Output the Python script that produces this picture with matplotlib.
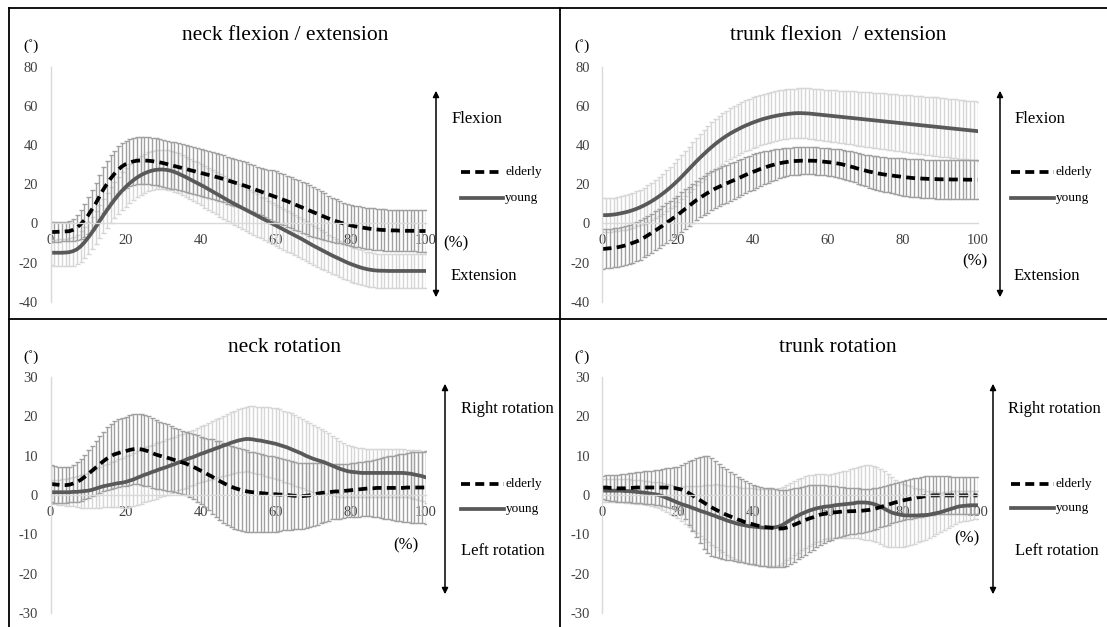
import numpy as np
import matplotlib.pyplot as plt
from matplotlib.lines import Line2D
from matplotlib.patches import FancyArrowPatch

plt.rcParams['font.family'] = ['Liberation Serif', 'DejaVu Serif']
plt.rcParams['axes.unicode_minus'] = False

# gait cycle (%)
pct = np.arange(101)

# neck flexion / extension (deg), mean and SD
neck_fe_elderly = [
    -4.4, -4.4, -4.3, -4.2, -4.1, -4.0, -3.3, -2.2, -0.5, 1.5,
    4.0, 7.0, 10.0, 13.5, 17.0, 20.0, 22.8, 25.2, 27.3, 29.0,
    30.2, 31.0, 31.6, 32.0, 32.1, 32.1, 32.0, 31.8, 31.5, 31.2,
    30.8, 30.3, 29.8, 29.3, 28.8, 28.3, 27.8, 27.3, 26.8, 26.3,
    25.8, 25.3, 24.8, 24.3, 23.8, 23.3, 22.7, 22.1, 21.5, 20.9,
    20.3, 19.7, 19.1, 18.4, 17.7, 17.0, 16.3, 15.6, 14.9, 14.2,
    13.5, 12.8, 12.1, 11.4, 10.6, 9.8, 9.0, 8.2, 7.4, 6.6,
    5.8, 5.0, 4.2, 3.4, 2.6, 1.9, 1.2, 0.6, 0.0, -0.5,
    -1.0, -1.4, -1.8, -2.1, -2.4, -2.7, -2.9, -3.1, -3.3, -3.4,
    -3.5, -3.6, -3.6, -3.7, -3.7, -3.8, -3.8, -3.8, -3.9, -3.9,
    -3.9]
neck_fe_elderly_sd = [
    5.0, 5.0, 5.0, 5.0, 5.0, 5.0, 5.5, 6.5, 7.5, 8.5,
    9.5, 10.2, 10.8, 11.3, 11.7, 12.0, 12.0, 12.0, 12.0, 12.0,
    12.0, 12.0, 12.0, 12.0, 12.0, 12.0, 12.0, 12.0, 12.0, 12.0,
    12.0, 12.0, 12.0, 12.0, 12.0, 12.0, 12.0, 12.0, 12.0, 12.0,
    12.0, 12.0, 12.0, 12.0, 12.0, 12.0, 12.0, 12.0, 12.0, 12.0,
    12.0, 12.0, 12.0, 12.0, 12.0, 12.0, 12.2, 12.4, 12.6, 12.8,
    13.0, 13.0, 13.0, 13.0, 13.0, 13.0, 13.0, 13.0, 13.0, 12.9,
    12.7, 12.5, 12.2, 11.9, 11.6, 11.3, 11.0, 10.8, 10.6, 10.5,
    10.5, 10.5, 10.5, 10.5, 10.5, 10.5, 10.5, 10.5, 10.5, 10.5,
    10.5, 10.5, 10.5, 10.5, 10.5, 10.5, 10.5, 10.5, 10.5, 10.5,
    10.5]
neck_fe_young = [
    -15.0, -15.0, -15.0, -15.0, -14.9, -14.7, -14.2, -13.3, -11.8, -9.8,
    -7.4, -4.8, -2.0, 0.9, 3.8, 6.6, 9.3, 11.9, 14.3, 16.5,
    18.5, 20.3, 21.9, 23.3, 24.5, 25.5, 26.3, 26.9, 27.3, 27.5,
    27.5, 27.3, 26.9, 26.3, 25.5, 24.6, 23.7, 22.7, 21.7, 20.7,
    19.7, 18.7, 17.6, 16.5, 15.4, 14.3, 13.2, 12.1, 11.0, 10.0,
    9.0, 8.0, 7.0, 6.0, 5.0, 4.0, 3.0, 2.0, 1.0, 0.0,
    -1.0, -2.0, -3.0, -4.0, -5.0, -6.0, -7.0, -8.0, -9.1, -10.2,
    -11.3, -12.3, -13.3, -14.3, -15.3, -16.3, -17.2, -18.1, -19.0, -19.9,
    -20.7, -21.4, -22.1, -22.7, -23.2, -23.6, -23.9, -24.1, -24.2, -24.2,
    -24.3, -24.3, -24.3, -24.3, -24.3, -24.3, -24.3, -24.3, -24.3, -24.3,
    -24.3]
neck_fe_young_sd = [
    6.5, 6.6, 6.8, 6.9, 7.1, 7.2, 7.4, 7.5, 7.7, 7.8,
    8.0, 8.2, 8.4, 8.6, 8.8, 9.0, 9.2, 9.4, 9.6, 9.8,
    10.0, 10.0, 10.0, 10.0, 10.0, 10.0, 10.0, 10.0, 10.0, 10.0,
    10.0, 10.1, 10.1, 10.2, 10.2, 10.3, 10.3, 10.4, 10.4, 10.5,
    10.5, 10.6, 10.6, 10.7, 10.7, 10.8, 10.8, 10.9, 10.9, 11.0,
    11.0, 11.0, 10.9, 10.9, 10.8, 10.8, 10.7, 10.7, 10.6, 10.6,
    10.5, 10.5, 10.4, 10.4, 10.3, 10.3, 10.2, 10.2, 10.1, 10.1,
    10.0, 9.9, 9.8, 9.7, 9.6, 9.5, 9.4, 9.3, 9.2, 9.1,
    9.0, 9.0, 8.9, 8.9, 8.8, 8.8, 8.7, 8.7, 8.6, 8.6,
    8.5, 8.5, 8.5, 8.5, 8.5, 8.5, 8.5, 8.5, 8.5, 8.5,
    8.5]

# trunk flexion / extension (deg)
trunk_fe_elderly = [
    -13.1, -12.9, -12.7, -12.5, -12.2, -11.8, -11.3, -10.7, -10.0, -9.3,
    -8.5, -7.4, -6.2, -5.0, -3.8, -2.5, -1.2, 0.2, 1.5, 2.9,
    4.2, 5.8, 7.3, 8.8, 10.3, 11.8, 13.0, 14.3, 15.5, 16.6,
    17.7, 18.6, 19.5, 20.3, 21.2, 22.0, 22.9, 23.7, 24.6, 25.4,
    26.2, 26.9, 27.7, 28.3, 29.0, 29.6, 30.1, 30.6, 31.0, 31.3,
    31.6, 31.8, 31.9, 32.0, 32.0, 32.0, 32.0, 31.9, 31.7, 31.5,
    31.3, 31.1, 30.8, 30.5, 30.1, 29.6, 29.1, 28.6, 28.0, 27.5,
    27.0, 26.5, 26.1, 25.7, 25.3, 25.0, 24.7, 24.5, 24.2, 24.0,
    23.7, 23.5, 23.3, 23.1, 23.0, 22.9, 22.8, 22.7, 22.6, 22.6,
    22.5, 22.5, 22.5, 22.4, 22.4, 22.4, 22.4, 22.3, 22.3, 22.3,
    22.3]
trunk_fe_elderly_sd = [
    10.0, 10.0, 10.0, 10.0, 10.0, 10.0, 10.0, 10.0, 10.0, 10.0,
    10.0, 10.0, 10.0, 10.0, 10.0, 10.0, 10.0, 10.0, 10.0, 10.0,
    10.0, 10.0, 10.0, 10.0, 10.0, 10.0, 10.0, 10.0, 10.0, 10.0,
    10.0, 9.9, 9.8, 9.7, 9.6, 9.5, 9.4, 9.3, 9.2, 9.1,
    9.0, 8.8, 8.6, 8.4, 8.2, 8.0, 7.8, 7.6, 7.4, 7.2,
    7.0, 7.0, 7.0, 7.0, 7.0, 7.0, 7.0, 7.0, 7.0, 7.0,
    7.0, 7.1, 7.2, 7.3, 7.4, 7.5, 7.6, 7.7, 7.8, 7.9,
    8.0, 8.2, 8.3, 8.5, 8.6, 8.8, 8.9, 9.1, 9.2, 9.4,
    9.5, 9.6, 9.6, 9.7, 9.7, 9.8, 9.8, 9.9, 9.9, 10.0,
    10.0, 10.0, 10.0, 10.0, 10.0, 10.0, 10.0, 10.0, 10.0, 10.0,
    10.0]
trunk_fe_young = [
    4.2, 4.2, 4.3, 4.5, 4.8, 5.2, 5.6, 6.1, 6.7, 7.4,
    8.2, 9.1, 10.1, 11.2, 12.4, 13.7, 15.1, 16.6, 18.2, 19.9,
    21.7, 23.6, 25.6, 27.6, 29.6, 31.6, 33.5, 35.3, 37.1, 38.8,
    40.4, 41.9, 43.3, 44.6, 45.8, 46.9, 47.9, 48.9, 49.8, 50.6,
    51.4, 52.1, 52.8, 53.4, 53.9, 54.4, 54.8, 55.2, 55.5, 55.8,
    56.0, 56.2, 56.3, 56.3, 56.2, 56.1, 55.9, 55.7, 55.5, 55.3,
    55.1, 54.9, 54.7, 54.5, 54.3, 54.1, 53.9, 53.7, 53.5, 53.3,
    53.1, 52.9, 52.7, 52.5, 52.3, 52.1, 51.9, 51.7, 51.5, 51.3,
    51.1, 50.9, 50.7, 50.5, 50.3, 50.1, 49.9, 49.7, 49.5, 49.3,
    49.1, 48.9, 48.7, 48.5, 48.3, 48.1, 47.9, 47.7, 47.5, 47.3,
    47.1]
trunk_fe_young_sd = [
    8.5, 8.5, 8.6, 8.6, 8.7, 8.7, 8.8, 8.8, 8.9, 8.9,
    9.0, 9.2, 9.4, 9.6, 9.8, 10.0, 10.2, 10.4, 10.6, 10.8,
    11.0, 11.2, 11.4, 11.6, 11.8, 12.0, 12.2, 12.4, 12.6, 12.8,
    13.0, 13.0, 13.0, 13.0, 13.0, 13.0, 13.0, 13.0, 13.0, 13.0,
    13.0, 13.0, 12.9, 12.9, 12.8, 12.8, 12.7, 12.7, 12.6, 12.6,
    12.5, 12.6, 12.6, 12.7, 12.7, 12.8, 12.8, 12.9, 12.9, 13.0,
    13.0, 13.1, 13.2, 13.3, 13.4, 13.5, 13.6, 13.7, 13.8, 13.9,
    14.0, 14.1, 14.1, 14.2, 14.2, 14.3, 14.3, 14.4, 14.4, 14.5,
    14.5, 14.6, 14.6, 14.7, 14.7, 14.8, 14.8, 14.9, 14.9, 15.0,
    15.0, 15.0, 15.0, 15.0, 15.0, 15.0, 15.0, 15.0, 15.0, 15.0,
    15.0]

# neck rotation (deg)
neck_rot_elderly = [
    2.8, 2.7, 2.6, 2.5, 2.5, 2.6, 2.9, 3.3, 3.8, 4.5,
    5.3, 6.1, 6.9, 7.7, 8.5, 9.2, 9.8, 10.3, 10.6, 10.9,
    11.1, 11.4, 11.6, 11.7, 11.6, 11.4, 11.1, 10.7, 10.3, 10.0,
    9.7, 9.5, 9.2, 8.9, 8.6, 8.3, 8.0, 7.6, 7.2, 6.7,
    6.2, 5.7, 5.2, 4.7, 4.1, 3.6, 3.1, 2.6, 2.2, 1.8,
    1.5, 1.2, 1.0, 0.8, 0.7, 0.6, 0.5, 0.4, 0.3, 0.2,
    0.2, 0.1, 0.1, 0.0, -0.1, -0.2, -0.2, -0.3, -0.2, -0.1,
    0.1, 0.3, 0.5, 0.6, 0.7, 0.8, 0.9, 0.9, 1.0, 1.1,
    1.2, 1.3, 1.4, 1.5, 1.6, 1.7, 1.7, 1.8, 1.8, 1.8,
    1.8, 1.8, 1.8, 1.8, 1.8, 1.9, 1.9, 1.9, 1.9, 1.9,
    1.9]
neck_rot_elderly_sd = [
    4.7, 4.7, 4.6, 4.6, 4.5, 4.5, 4.7, 5.0, 5.3, 5.6,
    6.0, 6.4, 6.8, 7.2, 7.6, 8.0, 8.2, 8.4, 8.6, 8.7,
    8.8, 8.8, 8.9, 8.9, 9.0, 9.0, 8.9, 8.8, 8.7, 8.6,
    8.5, 8.4, 8.3, 8.2, 8.1, 8.0, 8.1, 8.2, 8.3, 8.4,
    8.5, 8.8, 9.1, 9.4, 9.7, 10.0, 10.1, 10.2, 10.3, 10.4,
    10.5, 10.4, 10.3, 10.2, 10.1, 10.0, 9.9, 9.8, 9.7, 9.6,
    9.5, 9.3, 9.1, 8.9, 8.7, 8.5, 8.4, 8.3, 8.2, 8.1,
    8.0, 7.8, 7.6, 7.4, 7.2, 7.0, 7.0, 6.9, 6.9, 6.8,
    6.8, 6.8, 6.9, 6.9, 7.0, 7.0, 7.2, 7.4, 7.6, 7.8,
    8.0, 8.2, 8.3, 8.5, 8.6, 8.8, 8.9, 9.0, 9.0, 9.1,
    9.2]
neck_rot_young = [
    0.7, 0.7, 0.7, 0.7, 0.7, 0.7, 0.8, 0.8, 0.9, 1.0,
    1.1, 1.3, 1.6, 1.9, 2.2, 2.4, 2.6, 2.8, 3.0, 3.1,
    3.3, 3.6, 3.9, 4.3, 4.7, 5.1, 5.4, 5.8, 6.1, 6.5,
    6.8, 7.1, 7.5, 7.8, 8.2, 8.5, 8.9, 9.3, 9.6, 10.0,
    10.4, 10.7, 11.1, 11.4, 11.8, 12.1, 12.5, 12.8, 13.2, 13.5,
    13.8, 14.0, 14.2, 14.2, 14.1, 13.9, 13.8, 13.6, 13.4, 13.2,
    13.0, 12.7, 12.4, 12.1, 11.7, 11.3, 10.9, 10.5, 10.0, 9.6,
    9.2, 8.9, 8.6, 8.3, 7.9, 7.5, 7.1, 6.7, 6.4, 6.1,
    5.9, 5.8, 5.7, 5.6, 5.6, 5.6, 5.6, 5.6, 5.6, 5.6,
    5.6, 5.6, 5.6, 5.6, 5.6, 5.5, 5.4, 5.2, 5.0, 4.8,
    4.5]
neck_rot_young_sd = [
    3.0, 3.1, 3.2, 3.3, 3.4, 3.5, 3.7, 3.9, 4.1, 4.3,
    4.5, 4.7, 4.9, 5.1, 5.3, 5.5, 5.7, 5.9, 6.1, 6.3,
    6.5, 6.6, 6.7, 6.8, 6.9, 7.0, 7.0, 7.0, 7.0, 7.0,
    7.0, 7.0, 7.0, 7.0, 7.0, 7.0, 7.0, 7.0, 7.0, 7.0,
    7.0, 7.1, 7.2, 7.3, 7.4, 7.5, 7.6, 7.7, 7.8, 7.9,
    8.0, 8.1, 8.2, 8.3, 8.4, 8.5, 8.6, 8.7, 8.8, 8.9,
    9.0, 9.0, 9.0, 9.0, 9.0, 9.0, 8.9, 8.8, 8.7, 8.6,
    8.5, 8.3, 8.1, 7.9, 7.7, 7.5, 7.3, 7.1, 6.9, 6.7,
    6.5, 6.4, 6.3, 6.2, 6.1, 6.0, 6.0, 6.0, 6.0, 6.0,
    6.0, 6.0, 6.0, 6.0, 6.0, 6.0, 6.1, 6.2, 6.3, 6.4,
    6.5]

# trunk rotation (deg)
trunk_rot_elderly = [
    1.9, 1.9, 1.8, 1.8, 1.7, 1.7, 1.7, 1.8, 1.8, 1.9,
    1.9, 1.9, 1.9, 1.9, 1.9, 1.9, 1.9, 1.9, 1.8, 1.8,
    1.6, 1.4, 1.0, 0.5, -0.1, -0.7, -1.3, -1.9, -2.5, -3.1,
    -3.6, -4.1, -4.6, -5.0, -5.4, -5.8, -6.2, -6.5, -6.9, -7.2,
    -7.4, -7.7, -7.9, -8.1, -8.2, -8.3, -8.4, -8.5, -8.5, -8.3,
    -8.0, -7.6, -7.2, -6.8, -6.4, -6.0, -5.7, -5.3, -5.0, -4.8,
    -4.6, -4.5, -4.4, -4.3, -4.2, -4.2, -4.1, -4.1, -4.0, -4.0,
    -3.9, -3.8, -3.6, -3.4, -3.1, -2.8, -2.5, -2.2, -1.9, -1.7,
    -1.4, -1.2, -1.0, -0.8, -0.6, -0.5, -0.3, -0.2, -0.1, -0.1,
    -0.1, -0.1, -0.1, -0.1, -0.1, -0.1, -0.1, -0.1, -0.1, -0.1,
    -0.1]
trunk_rot_elderly_sd = [
    3.0, 3.1, 3.2, 3.3, 3.4, 3.5, 3.6, 3.7, 3.8, 3.9,
    4.0, 4.1, 4.2, 4.3, 4.4, 4.5, 4.7, 4.9, 5.1, 5.3,
    5.5, 6.2, 7.1, 8.0, 9.0, 10.0, 10.9, 11.7, 12.3, 12.4,
    12.2, 12.0, 11.7, 11.5, 11.2, 11.0, 10.8, 10.6, 10.4, 10.2,
    10.0, 10.0, 10.0, 10.0, 10.0, 10.0, 9.9, 9.8, 9.7, 9.6,
    9.5, 9.3, 9.1, 8.9, 8.7, 8.5, 8.2, 7.9, 7.6, 7.3,
    7.0, 6.8, 6.6, 6.4, 6.2, 6.0, 5.9, 5.8, 5.7, 5.6,
    5.5, 5.4, 5.3, 5.2, 5.1, 5.0, 5.0, 5.0, 5.0, 5.0,
    5.0, 5.0, 5.0, 5.0, 5.0, 5.0, 5.0, 4.9, 4.9, 4.8,
    4.8, 4.8, 4.8, 4.7, 4.7, 4.7, 4.7, 4.7, 4.7, 4.7,
    4.7]
trunk_rot_young = [
    1.1, 1.1, 1.1, 1.1, 1.1, 1.1, 1.0, 1.0, 0.9, 0.8,
    0.7, 0.6, 0.5, 0.3, 0.2, 0.0, -0.3, -0.7, -1.1, -1.5,
    -1.9, -2.3, -2.6, -2.9, -3.3, -3.6, -4.0, -4.3, -4.6, -5.0,
    -5.3, -5.7, -6.0, -6.4, -6.7, -7.0, -7.3, -7.5, -7.7, -7.9,
    -8.0, -8.1, -8.2, -8.3, -8.3, -8.3, -8.2, -8.0, -7.6, -7.0,
    -6.4, -5.8, -5.3, -4.8, -4.4, -4.0, -3.7, -3.4, -3.2, -3.0,
    -2.9, -2.8, -2.6, -2.5, -2.4, -2.3, -2.2, -2.1, -1.9, -1.9,
    -1.9, -2.0, -2.2, -2.5, -2.9, -3.4, -3.9, -4.4, -4.7, -4.9,
    -5.1, -5.2, -5.2, -5.2, -5.2, -5.1, -5.1, -5.0, -4.8, -4.6,
    -4.4, -4.1, -3.8, -3.5, -3.2, -2.9, -2.8, -2.7, -2.6, -2.6,
    -2.6]
trunk_rot_young_sd = [
    3.0, 3.0, 3.0, 3.0, 3.0, 3.0, 3.0, 3.0, 3.0, 3.0,
    3.0, 3.0, 3.0, 3.1, 3.2, 3.3, 3.4, 3.5, 3.7, 3.8,
    4.0, 4.4, 4.8, 5.2, 5.6, 6.0, 6.4, 6.8, 7.2, 7.6,
    8.0, 8.2, 8.5, 8.7, 9.0, 9.2, 9.3, 9.4, 9.5, 9.6,
    9.7, 9.7, 9.7, 9.7, 9.8, 9.8, 9.8, 9.7, 9.7, 9.6,
    9.5, 9.4, 9.3, 9.2, 9.1, 9.0, 8.8, 8.6, 8.4, 8.2,
    8.0, 8.1, 8.2, 8.3, 8.4, 8.5, 8.7, 8.9, 9.1, 9.3,
    9.5, 9.5, 9.5, 9.5, 9.5, 9.5, 9.2, 8.9, 8.6, 8.3,
    8.0, 7.7, 7.4, 7.1, 6.8, 6.5, 6.2, 5.9, 5.6, 5.3,
    5.0, 4.8, 4.6, 4.4, 4.2, 4.0, 3.9, 3.8, 3.7, 3.6,
    3.5]

W, H = 1107, 627
fig = plt.figure(figsize=(W / 100, H / 100), dpi=100)


def fx(x):
    return x / W


def fy(y):
    return 1 - y / H


def ftext(x, y, s, size, **kw):
    fig.text(fx(x), fy(y), s, fontsize=size, ha=kw.pop('ha', 'center'),
             va=kw.pop('va', 'center'), color=kw.pop('color', 'black'), **kw)


def fline(x0, y0, x1, y1, **kw):
    fig.add_artist(Line2D([fx(x0), fx(x1)], [fy(y0), fy(y1)],
                          transform=fig.transFigure, **kw))


def draw_panel(box, ylim, ystep, elderly, elderly_sd, young, young_sd):
    left, right, top, bottom = box
    ax = fig.add_axes([fx(left), fy(bottom), (right - left) / W, (bottom - top) / H])
    ax.errorbar(pct, young, yerr=young_sd, fmt='none', ecolor='#d6d6d6',
                elinewidth=1.0, capsize=1.8, capthick=1.0)
    ax.errorbar(pct, elderly, yerr=elderly_sd, fmt='none', ecolor='#a0a0a0',
                elinewidth=1.0, capsize=1.8, capthick=1.0)
    ax.plot(pct, young, color='#595959', lw=2.7)
    ax.plot(pct, elderly, color='black', lw=2.7, dashes=(2.4, 1.4))
    ax.set_xlim(0, 100)
    ax.set_ylim(*ylim)
    ax.set_xticks(range(0, 101, 20))
    ax.set_yticks(range(ylim[0], ylim[1] + 1, ystep))
    ax.spines['bottom'].set_position(('data', 0))
    for side in ('top', 'right'):
        ax.spines[side].set_visible(False)
    for side in ('left', 'bottom'):
        ax.spines[side].set_color('#d9d9d9')
        ax.spines[side].set_linewidth(1.0)
    ax.tick_params(axis='both', length=0, labelsize=10.5, labelcolor='#404040')
    ax.tick_params(axis='y', pad=9)
    ax.tick_params(axis='x', pad=8)
    ax.patch.set_alpha(0)
    return ax


def legend(x0, x1, y_el, y_yg, xt):
    fline(x0, y_el, x1, y_el, color='black', lw=2.7, dashes=(2.4, 1.4))
    fline(x0, y_yg, x1, y_yg, color='#595959', lw=2.7)
    ftext(xt, y_el, 'elderly', 9.5, ha='left')
    ftext(xt, y_yg, 'young', 9.5, ha='left')


def arrow(x, y0, y1):
    fig.add_artist(FancyArrowPatch((fx(x), fy(y0)), (fx(x), fy(y1)),
                                   transform=fig.transFigure, arrowstyle='<|-|>',
                                   mutation_scale=9, lw=1.1, color='black'))


# panel frames
frame = dict(color='black', lw=1.3)
fline(9, 8, W, 8, **frame)
fline(9, 8, 9, H, **frame)
fline(560, 8, 560, H, **frame)
fline(9, 319, W, 319, **frame)

# top left: neck flexion / extension
draw_panel((50.5, 425.5, 66.7, 301.7), (-40, 80), 20,
           neck_fe_elderly, neck_fe_elderly_sd, neck_fe_young, neck_fe_young_sd)
ftext(285, 36, 'neck flexion / extension', 15.5)
ftext(31, 46, '(\u02da)', 11)
ftext(456, 243, '(%)', 12)
arrow(436, 88, 300)
ftext(477, 119, 'Flexion', 12)
ftext(484, 276, 'Extension', 12)
legend(461, 503, 172, 198, 505)

# top right: trunk flexion / extension
draw_panel((602.5, 977.5, 66.7, 301.7), (-40, 80), 20,
           trunk_fe_elderly, trunk_fe_elderly_sd, trunk_fe_young, trunk_fe_young_sd)
ftext(838, 36, 'trunk flexion  / extension', 15.5)
ftext(582, 46, '(\u02da)', 11)
ftext(975, 261, '(%)', 12)
arrow(1000, 88, 300)
ftext(1040, 119, 'Flexion', 12)
ftext(1047, 276, 'Extension', 12)
legend(1011, 1054, 172, 198, 1056)

# bottom left: neck rotation
draw_panel((50.5, 425.5, 376.7, 613.3), (-30, 30), 10,
           neck_rot_elderly, neck_rot_elderly_sd, neck_rot_young, neck_rot_young_sd)
ftext(285, 348, 'neck rotation', 15.5)
ftext(31, 357, '(\u02da)', 11)
ftext(406, 545, '(%)', 12)
arrow(445, 381, 597)
ftext(507, 409, 'Right rotation', 12)
ftext(503, 551, 'Left rotation', 12)
legend(461, 504, 484, 509, 506)

# bottom right: trunk rotation
draw_panel((602.5, 977.5, 376.7, 613.3), (-30, 30), 10,
           trunk_rot_elderly, trunk_rot_elderly_sd, trunk_rot_young, trunk_rot_young_sd)
ftext(838, 348, 'trunk rotation', 15.5)
ftext(582, 357, '(\u02da)', 11)
ftext(967, 538, '(%)', 12)
arrow(993, 381, 597)
ftext(1054, 409, 'Right rotation', 12)
ftext(1057, 551, 'Left rotation', 12)
legend(1011, 1054, 484, 508, 1056)

fig.savefig('out.png', dpi=100)
